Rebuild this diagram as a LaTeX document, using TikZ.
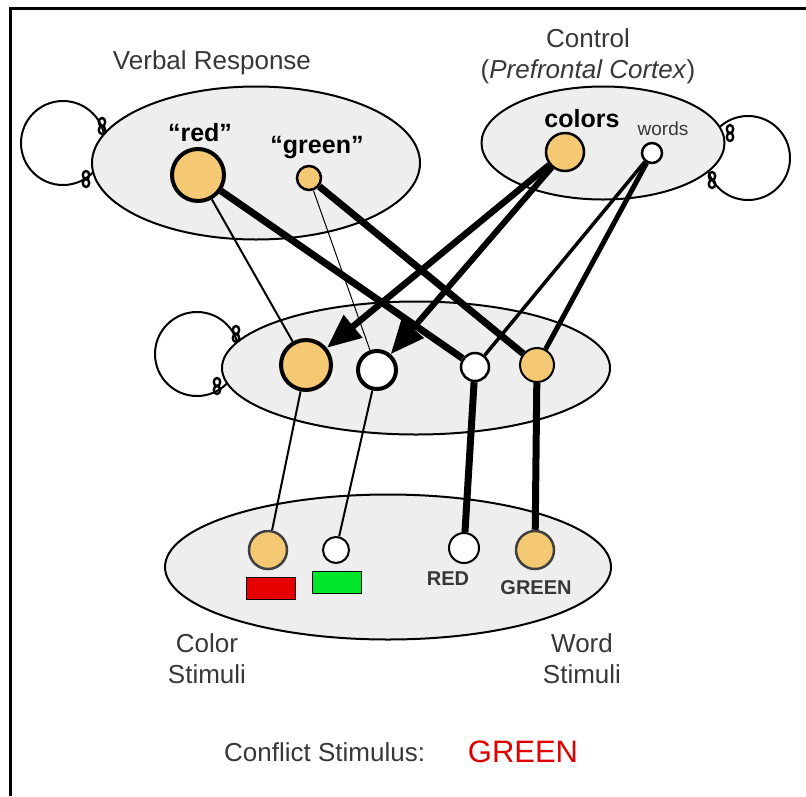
\documentclass[tikz,border=0pt]{standalone}
\usepackage{fontspec}
\setmainfont{Liberation Sans}
\usetikzlibrary{shapes.geometric,arrows.meta}
\pgfdeclarelayer{bg}\pgfdeclarelayer{mid}\pgfsetlayers{bg,mid,main}
\definecolor{nodeor}{RGB}{245,200,115}
\definecolor{layerfill}{RGB}{238,238,238}
\definecolor{lbl}{RGB}{55,55,55}
\definecolor{stimred}{RGB}{230,0,0}
\definecolor{stimgreen}{RGB}{0,230,40}
\definecolor{txtred}{RGB}{220,0,0}
\tikzset{
  layer/.style={ellipse, draw, line width=2pt, fill=layerfill, inner sep=0},
  unit/.style={circle, draw, inner sep=0, minimum size=#1},
  onunit/.style={unit=#1, fill=nodeor},
  offunit/.style={unit=#1, fill=white},
  lab/.style={text=lbl, font=\fontsize{26}{31}\selectfont, align=center, inner sep=0},
  blab/.style={text=black, font=\fontsize{25}{30}\selectfont\bfseries, inner sep=0},
  loopline/.style={line width=2pt},
  ring/.style={line width=2.4pt},
  conn/.style={line width=#1, line cap=butt},
  bigarrow/.style={-{Triangle[length=34pt,width=28pt]}},
}
\begin{document}
\begin{tikzpicture}[x=1pt,y=-1pt]
\useasboundingbox (0,0) rectangle (806,796);
% frame
\draw[line width=3pt] (9,8) -- (806,8);
\draw[line width=3pt] (10,8) -- (10,796);

% layers
\begin{pgfonlayer}{bg}
  \draw[loopline] (63,143) circle (42);
  \draw[loopline] (197,354) circle (42);
  \draw[loopline] (748,158) circle (42);
  \node[layer, minimum width=328, minimum height=153] (verbal) at (256,163) {};
  \node[layer, minimum width=243, minimum height=113] (control) at (603,143) {};
  \node[layer, minimum width=388, minimum height=133] (hidden) at (416,368) {};
  \node[layer, minimum width=446, minimum height=145] (input) at (388,567) {};
\end{pgfonlayer}

% loop junction rings
\foreach \px/\py in {102/126, 86/179, 236/334, 217/386, 730/133, 712/180}{
  \draw[ring] (\px,\py-4) ellipse (3.2 and 4);
  \draw[ring] (\px,\py+4) ellipse (3.2 and 4);
}

% labels
\node[lab] (lverbal) at (212,63) {Verbal Response};
\node[lab] (lcontrol) at (588,56) {Control\\(\textit{Prefrontal Cortex})};
\node[lab] (lcolor) at (207,659) {Color\\Stimuli};
\node[lab] (lword) at (582,659) {Word\\Stimuli};
\node[lab, anchor=west] (lconf) at (224,752) {Conflict Stimulus:};
\node[text=txtred, font=\fontsize{31}{36}\selectfont, inner sep=0] (lgreen) at (523,752) {GREEN};

\node[blab] (tred) at (200,133) {``red''};
\node[blab] (tgreen) at (317,148) {``green''};
\node[blab] (tcolors) at (582,119) {colors};
\node[text=lbl, font=\fontsize{19}{22}\selectfont, inner sep=0] (twords) at (663,129) {words};
\node[text=lbl, font=\fontsize{20}{24}\selectfont\bfseries, inner sep=0] (tRED) at (448,579) {RED};
\node[text=lbl, font=\fontsize{20}{24}\selectfont\bfseries, inner sep=0] (tGREEN) at (536,588) {GREEN};

% units
\node[onunit=52, line width=4pt] (vred) at (198,175) {};
\node[onunit=24, line width=2.5pt] (vgreen) at (309,178) {};
\node[onunit=38, line width=2.5pt] (ccolors) at (565,152) {};
\node[offunit=20, line width=2.5pt] (cwords) at (652,153) {};

\node[onunit=50, line width=4pt] (h1) at (306,365) {};
\node[offunit=38, line width=4pt] (h2) at (377,370) {};
\node[offunit=28, line width=2.5pt] (h3) at (475,367) {};
\node[onunit=34, line width=2pt] (h4) at (537,365) {};

\node[onunit=38, line width=2.5pt, draw=black!75] (i1) at (268,550) {};
\node[offunit=26, line width=2pt] (i2) at (336,550) {};
\node[offunit=30, line width=2pt] (i3) at (464,548) {};
\node[onunit=38, line width=2.5pt, draw=black!75] (i4) at (535,550) {};

% stimulus patches
\draw[line width=1pt, fill=stimred] (246,577) rectangle (295,599);
\draw[line width=1pt, fill=stimgreen] (312,571) rectangle (361,593);

% connections
\begin{pgfonlayer}{mid}
  \draw[conn=2pt] (vred) -- (h1);
  \draw[conn=7pt] (vred) -- (h3);
  \draw[conn=1pt] (vgreen) -- (h2);
  \draw[conn=7pt] (vgreen) -- (h4);
  \draw[conn=6.5pt, bigarrow] (ccolors) -- (h1);
  \draw[conn=6pt, bigarrow] (ccolors) -- (h2);
  \draw[conn=3.5pt] (cwords) -- (h3);
  \draw[conn=5pt] (cwords) -- (h4);
  \draw[conn=2pt] (h1) -- (i1);
  \draw[conn=2pt] (h2) -- (i2);
  \draw[conn=7pt] (h3) -- (i3);
  \draw[conn=7pt] (h4) -- (i4);
\end{pgfonlayer}
\end{tikzpicture}
\end{document}
